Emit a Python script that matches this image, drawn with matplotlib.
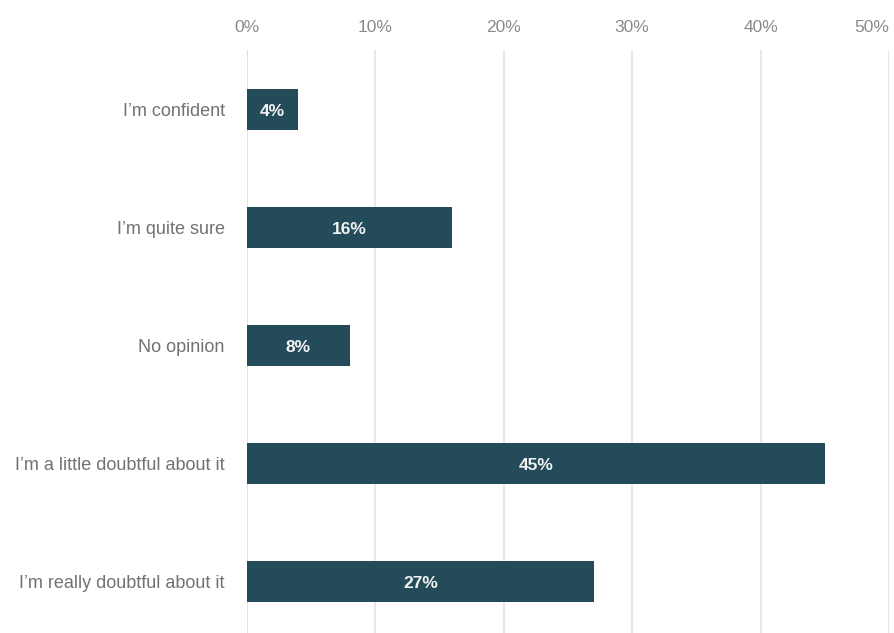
import matplotlib.pyplot as plt
from matplotlib.ticker import FuncFormatter

plt.rcParams["font.family"] = ["Liberation Sans", "DejaVu Sans"]

answers = [
    "I\u2019m confident",
    "I\u2019m quite sure",
    "No opinion",
    "I\u2019m a little doubtful about it",
    "I\u2019m really doubtful about it",
]
shares = [4, 16, 8, 45, 27]
ticks = [0, 10, 20, 30, 40, 50]

BAR = "#234b59"

fig = plt.figure(figsize=(8.95, 6.33), dpi=100)
ax = fig.add_axes([247 / 895, 0, 642 / 895, 583 / 633])

pos = list(range(len(answers)))
ax.barh(pos, shares, height=0.35, color=BAR, zorder=3)
for y, v in zip(pos, shares):
    ax.text(v / 2, y + 0.02, f"{v}%", ha="center", va="center", color="#f2f2f2",
            fontsize=12.5, fontweight="bold", zorder=4)

ax.set_xlim(0, 50)
ax.set_ylim(4.436, -0.504)
ax.set_xticks(ticks)
ax.xaxis.set_major_formatter(FuncFormatter(lambda x, _: f"{x:.0f}%"))
ax.xaxis.tick_top()
ax.tick_params(axis="x", length=0, pad=11, labelsize=12.5, labelcolor="#8a8a8a")
# last label sits flush with the right edge
ax.get_xticklabels()[-1].set_horizontalalignment("right")
ax.set_yticks(pos)
ax.set_yticklabels(answers)
ax.tick_params(axis="y", length=0, pad=16, labelsize=13, labelcolor="#727272")

ax.grid(axis="x", color="#e4e4e4", linewidth=1.2, zorder=0)
ax.axvline(0, color="#d3d6ee", linewidth=1.2, zorder=1)
for s in ax.spines.values():
    s.set_visible(False)

fig.savefig("out.png", dpi=100)
